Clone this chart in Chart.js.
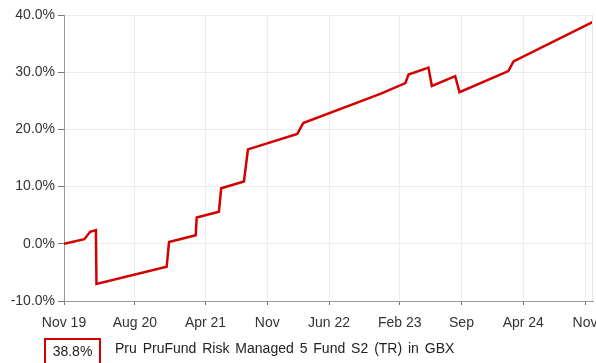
<!DOCTYPE html>
<html>
<head>
<meta charset="utf-8">
<script src="https://cdn.jsdelivr.net/npm/chart.js@4.4.1/dist/chart.umd.min.js"></script>
<style>
  body { margin: 0; background: #fff; font-family: "Liberation Sans", Arial, sans-serif; }
  #wrap { position: relative; width: 596px; height: 363px; overflow: hidden; }
  #legendBox {
    position: absolute; left: 44px; top: 338px; width: 53px; height: 30px;
    border: 2px solid #d40000; font-size: 14px; color: #222;
    text-align: center; line-height: 22px;
  }
  #legendText {
    position: absolute; left: 115px; top: 340px; font-size: 14px; color: #222;
    white-space: nowrap; word-spacing: 2px;
  }
</style>
</head>
<body>
<div id="wrap">
  <canvas id="perfChart" width="596" height="363"></canvas>
  <div id="legendBox"></div>
  <div id="legendText"></div>
</div>
<script>
const fundName = 'Pru PruFund Risk Managed 5 Fund S2 (TR) in GBX';

// cumulative growth (%) at each date
const dates = [
  '2019-11-30', '2020-02-09', '2020-02-28', '2020-03-19', '2020-03-21',
  '2020-11-19', '2020-11-27', '2021-02-26', '2021-03-01', '2021-05-17',
  '2021-05-25', '2021-08-12', '2021-08-26', '2022-02-12', '2022-03-03',
  '2022-11-25', '2023-02-19', '2023-03-01', '2023-05-09', '2023-05-21',
  '2023-08-10', '2023-08-25', '2024-02-10', '2024-02-27', '2024-11-28'
];
const growth = [
  0.0, 0.8, 2.1, 2.4, -7.0,
  -4.0, 0.3, 1.5, 4.6, 5.6,
  9.7, 10.9, 16.5, 19.2, 21.1,
  26.2, 28.1, 29.6, 30.8, 27.6,
  29.3, 26.5, 30.2, 31.9, 38.8
];

const tickDates = ['2019-11-30', '2020-08-01', '2021-04-01', '2021-11-01', '2022-06-01',
                   '2023-02-01', '2023-09-01', '2024-04-01', '2024-11-01'];
const tickLabels = ['Nov 19', 'Aug 20', 'Apr 21', 'Nov', 'Jun 22', 'Feb 23', 'Sep', 'Apr 24', 'Nov'];
const yTicks = [-10, 0, 10, 20, 30, 40];

// date string -> months since Jan 2019 (fractional)
function toMonth(s){
    const [y, m, d] = s.split('-').map(Number);
    const days = new Date(y, m, 0).getDate();
    return (y - 2019) * 12 + (m - 1) + (d - 1) / days;
}

const points = dates.map((d, i) => ({ x: toMonth(d), y: growth[i] }));
const tickPos = tickDates.map(toMonth);

document.getElementById('legendBox').textContent = growth[growth.length - 1].toFixed(1) + '%';
document.getElementById('legendText').textContent = fundName;

Chart.defaults.font.family = '"Liberation Sans", Arial, sans-serif';
Chart.defaults.font.size = 14;
Chart.defaults.color = '#333';

// right-hand frame line of the plot
const rightEdge = {
    id: 'rightEdge',
    afterDraw(chart){
        const a = chart.chartArea;
        const ctx = chart.ctx;
        ctx.save();
        ctx.strokeStyle = '#e2e2e2';
        ctx.lineWidth = 1;
        ctx.beginPath();
        ctx.moveTo(Math.round(a.right) - 0.5, a.top);
        ctx.lineTo(Math.round(a.right) - 0.5, a.bottom);
        ctx.stroke();
        ctx.restore();
    }
};

const ctx = document.getElementById('perfChart').getContext('2d');
new Chart(ctx, {
    type: 'line',
    data: {
        datasets: [{
            label: fundName,
            data: points,
            borderColor: '#d40000',
            borderWidth: 2.5,
            pointRadius: 0,
            tension: 0,
            fill: false
        }]
    },
    options: {
        responsive: false,
        animation: false,
        layout: { padding: { top: 15, right: 3, left: 0, bottom: 0 } },
        plugins: { legend: { display: false }, tooltip: { enabled: false } },
        scales: {
            x: {
                type: 'linear',
                min: toMonth(dates[0]),
                max: toMonth(dates[dates.length - 1]),
                afterBuildTicks: s => { s.ticks = tickPos.map(v => ({ value: v })); },
                afterFit: s => { s.height = 62; s.paddingLeft = 0; s.paddingRight = 0; },
                ticks: {
                    autoSkip: false, maxRotation: 0, padding: 10,
                    callback: (v, i) => tickLabels[i]
                },
                grid: { color: '#ececec', tickColor: '#777', tickLength: 4 },
                border: { color: '#999' }
            },
            y: {
                min: -10, max: 40,
                afterBuildTicks: s => { s.ticks = yTicks.map(v => ({ value: v })); },
                afterFit: s => { s.width = 64; },
                ticks: { padding: 3, callback: v => v.toFixed(1) + '%' },
                grid: { color: '#ececec', tickColor: '#777', tickLength: 6 },
                border: { color: '#999' }
            }
        }
    },
    plugins: [rightEdge]
});
</script>
</body>
</html>
